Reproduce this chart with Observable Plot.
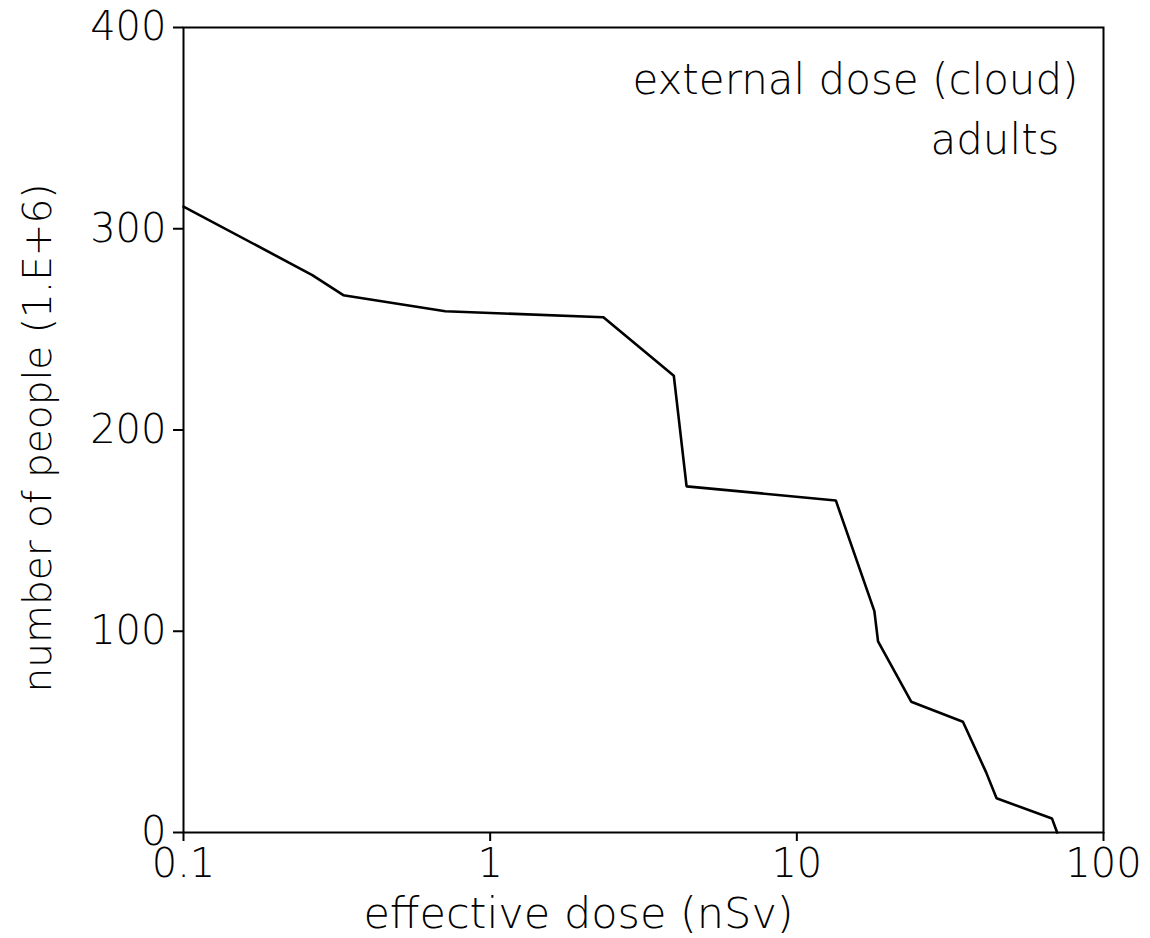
<!DOCTYPE html>
<html>
<head>
<meta charset="utf-8">
<script src="https://cdn.jsdelivr.net/npm/d3@7"></script>
<script src="https://cdn.jsdelivr.net/npm/@observablehq/plot@0.6"></script>
<style>
  html, body { margin: 0; padding: 0; background: #fff; }
  #chart svg { display: block; }
</style>
</head>
<body>
<div id="chart"></div>
<script>
const dose = [0.1, 0.263, 0.332, 0.714, 2.34, 3.97, 4.37, 13.4, 17.9, 18.4, 23.6, 34.8, 41.4, 44.8, 67.9, 70.6];
const people = [311, 277, 267, 259, 256, 227, 172, 165, 110, 95, 65, 55, 30, 17, 7, 0];
const xTicks = [0.1, 1, 10, 100];
const xTickLabels = ["0.1", "1", "10", "100"];
const yTicks = [0, 100, 200, 300, 400];
const annotations = ["external dose (cloud)", "adults"];
const xTitle = "effective dose (nSv)";
const yTitle = "number of people (1.E+6)";

const data = dose.map((d, i) => ({dose: d, people: people[i]}));
const font = "'DejaVu Sans', sans-serif";
const fmtX = (d) => xTickLabels[xTicks.indexOf(d)] ?? "";

const chart = Plot.plot({
  width: 1150,
  height: 938,
  marginLeft: 183,
  marginRight: 47,
  marginTop: 27,
  marginBottom: 106,
  style: {fontFamily: font, background: "#fff", color: "#000"},
  x: {type: "log", domain: [0.1, 100], ticks: xTicks, tickFormat: fmtX, label: null},
  y: {domain: [0, 400], ticks: yTicks, label: null},
  marks: [
    Plot.frame({stroke: "#000", strokeWidth: 2}),
    Plot.axisX({ticks: xTicks, tickFormat: fmtX, tickSize: 9, tickPadding: 7, fontSize: 40, fontWeight: 200, strokeWidth: 2, label: null}),
    Plot.axisY({ticks: yTicks, tickSize: 10, tickPadding: 7, fontSize: 40, fontWeight: 200, strokeWidth: 2, label: null}),
    Plot.line(data, {x: "dose", y: "people", stroke: "#000", strokeWidth: 2.6, strokeLinejoin: "miter"}),
    Plot.text([annotations[0]], {frameAnchor: "top-right", lineAnchor: "bottom", dx: -25, dy: 66, text: d => d, fontSize: 42, fontWeight: 200, fill: "#000"}),
    Plot.text([annotations[1]], {frameAnchor: "top-right", lineAnchor: "bottom", dx: -44, dy: 126, text: d => d, fontSize: 42, fontWeight: 200, fill: "#000"}),
    Plot.text([xTitle], {frameAnchor: "bottom", lineAnchor: "bottom", textAnchor: "middle", dy: 95, dx: -65, text: d => d, fontSize: 43, fontWeight: 200, fill: "#000"}),
    Plot.text([yTitle], {frameAnchor: "left", lineAnchor: "middle", textAnchor: "middle", dx: -145, dy: 8, rotate: -90, text: d => d, fontSize: 39, fontWeight: 200, fill: "#000"})
  ]
});
document.getElementById("chart").appendChild(chart);
</script>
</body>
</html>
